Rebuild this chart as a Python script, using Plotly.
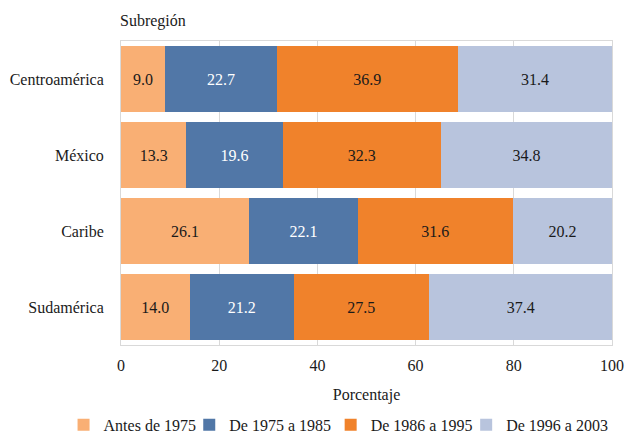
import plotly.graph_objects as go

# data
SUBREGIONS = ['Centroamérica', 'México', 'Caribe', 'Sudamérica']
PERIODS = ['Antes de 1975', 'De 1975 a 1985', 'De 1986 a 1995', 'De 1996 a 2003']
antes_1975 = [9.0, 13.3, 26.1, 14.0]
de_1975_1985 = [22.7, 19.6, 22.1, 21.2]
de_1986_1995 = [36.9, 32.3, 31.6, 27.5]
de_1996_2003 = [31.4, 34.8, 20.2, 37.4]
X_TICKS = [0, 20, 40, 60, 80, 100]

SERIES = [antes_1975, de_1975_1985, de_1986_1995, de_1996_2003]
COLORS = ['#F9AF74', '#5177A7', '#F0822B', '#B8C4DD']
TEXT_COLORS = ['#1A1A1A', '#FFFFFF', '#1A1A1A', '#1A1A1A']
FONT = '"Liberation Serif", "Times New Roman", serif'
FS = 16
# one legend per entry so each swatch sits where it does in the original
LEGEND_X = [-0.117, 0.139, 0.427, 0.703]
LEGEND_IDS = ['legend', 'legend2', 'legend3', 'legend4']

fig = go.Figure()
for name, vals, col, tcol, lid in zip(PERIODS, SERIES, COLORS, TEXT_COLORS, LEGEND_IDS):
    fig.add_trace(go.Bar(
        y=SUBREGIONS, x=vals, name=name, orientation='h', legend=lid,
        marker=dict(color=col, line=dict(width=0)),
        text=[f'{v:.1f}' for v in vals], textposition='inside',
        insidetextanchor='middle', textangle=0,
        textfont=dict(family=FONT, size=FS, color=tcol),
    ))

legends = {}
for lid, lx in zip(LEGEND_IDS, LEGEND_X):
    legends[lid] = dict(orientation='h', x=lx, xanchor='left', y=-0.263, yanchor='middle',
                        font=dict(family=FONT, size=FS), bgcolor='rgba(0,0,0,0)')

fig.update_layout(
    barmode='stack',
    bargap=0.13,
    width=628, height=435,
    margin=dict(l=121, r=16, t=41, b=90, autoexpand=False),
    paper_bgcolor='white', plot_bgcolor='white',
    font=dict(family=FONT, size=FS, color='#1A1A1A'),
    uniformtext=dict(minsize=FS, mode='show'),
    showlegend=True,
    annotations=[dict(text='Subregión', xref='paper', yref='paper', x=-0.006, y=1.03,
                      xanchor='left', yanchor='bottom', showarrow=False,
                      font=dict(family=FONT, size=FS))],
    **legends,
)
fig.update_xaxes(range=[0, 100], tickvals=X_TICKS, showgrid=True, gridcolor='#D9D9D9',
                 gridwidth=1, showline=True, linecolor='#D9D9D9', mirror=True,
                 zeroline=False, ticks='', ticklabelstandoff=6, automargin=False,
                 title=dict(text='Porcentaje', standoff=15, font=dict(family=FONT, size=FS)),
                 tickfont=dict(family=FONT, size=FS))
fig.update_yaxes(autorange='reversed', showline=True, linecolor='#D9D9D9', mirror=True,
                 showgrid=False, ticks='', ticklabelstandoff=13, automargin=False,
                 tickfont=dict(family=FONT, size=FS))

fig.write_html('out.html', config={'displayModeBar': False},
               post_script="document.body.style.margin='0';")
